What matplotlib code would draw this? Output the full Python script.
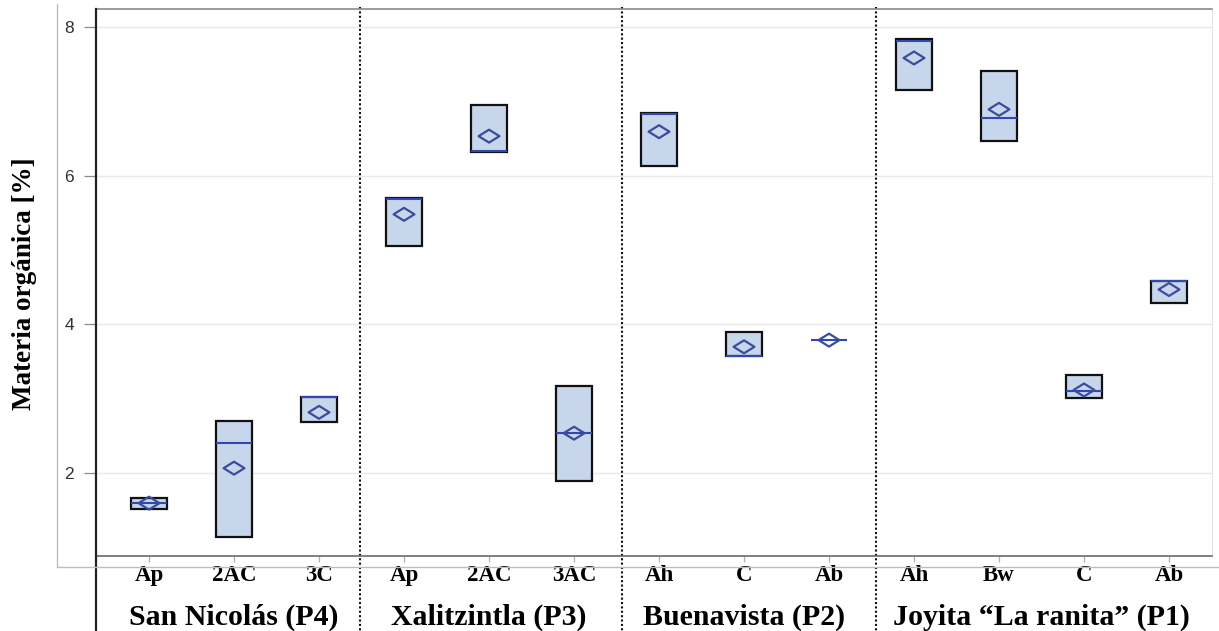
import matplotlib
matplotlib.use("Agg")
import matplotlib.pyplot as plt
import matplotlib.transforms as mtransforms
from matplotlib.lines import Line2D
from matplotlib.path import Path
import numpy as np

# Soil horizons along each profile, and the profile each group belongs to
horizons = ["Ap", "2AC", "3C", "Ap", "2AC", "3AC", "Ah", "C", "Ab", "Ah", "Bw", "C", "Ab"]
profiles = ["San Nicolás (P4)", "Xalitzintla (P3)", "Buenavista (P2)",
            "Joyita \u201cLa ranita\u201d (P1)"]
profile_sizes = [3, 3, 3, 4]

# Organic matter (%) summary per horizon
om_q1 = [1.52, 1.14, 2.69, 5.06, 6.32, 1.90, 6.13, 3.58, 3.79, 7.15, 6.47, 3.01, 4.29]
om_q3 = [1.67, 2.71, 3.03, 5.70, 6.95, 3.17, 6.84, 3.90, 3.79, 7.84, 7.41, 3.32, 4.58]
om_median = [1.60, 2.41, 3.02, 5.69, 6.33, 2.54, 6.83, 3.58, 3.79, 7.81, 6.78, 3.10, 4.58]
om_mean = [1.60, 2.07, 2.82, 5.48, 6.53, 2.54, 6.59, 3.70, 3.79, 7.58, 6.89, 3.12, 4.47]

y_ticks = [2, 4, 6, 8]

W, H = 1219, 631
fig = plt.figure(figsize=(W / 100, H / 100), dpi=100)
fig.patch.set_facecolor("white")


def fx(px):
    return px / W


def fy(py):
    return 1 - py / H


ax = fig.add_axes([fx(96), fy(556), fx(1212) - fx(96), fy(9) - fy(556)])
ax.set_xlim(-0.624, 12.506)
ax.set_ylim(0.89, 8.238)

serif = ["Liberation Serif", "DejaVu Serif"]
box_fill = "#c8d6ec"
blue = "#3347b0"
diamond_col = "#3a4c9c"

x = np.arange(len(horizons))
width = 0.42

# grid
for v in y_ticks:
    ax.axhline(v, color="#e9e9e9", lw=1.0, zorder=0)

# boxes (interquartile range)
for xi, lo, hi in zip(x, om_q1, om_q3):
    if hi > lo:
        ax.bar(xi, hi - lo, bottom=lo, width=width, facecolor=box_fill,
               edgecolor="#111111", linewidth=1.6, zorder=2)

# medians
ax.hlines(om_median, x - width / 2, x + width / 2, colors=blue, lw=1.5, zorder=3)

# means as flattened diamonds
diamond = Path([(-1, 0), (0, 0.62), (1, 0), (0, -0.62), (-1, 0)],
               [Path.MOVETO, Path.LINETO, Path.LINETO, Path.LINETO, Path.CLOSEPOLY])
ax.scatter(x, om_mean, marker=diamond, s=15 ** 2, facecolors="none",
           edgecolors=diamond_col, linewidths=1.6, zorder=4)

# spines
for side in ["left", "right", "top", "bottom"]:
    ax.spines[side].set_visible(False)
ax.spines["top"].set_visible(True)
ax.spines["top"].set_color("#8a8a8a")
ax.spines["top"].set_linewidth(1.2)
ax.spines["right"].set_visible(True)
ax.spines["right"].set_color("#e4e4e4")
ax.spines["bottom"].set_visible(True)
ax.spines["bottom"].set_color("#6a6a6a")
ax.spines["bottom"].set_linewidth(1.2)

# y axis
ax.set_yticks(y_ticks)
ax.set_yticklabels([str(v) for v in y_ticks], family=["Liberation Sans", "DejaVu Sans"],
                   fontsize=12.5, color="#333333")
ax.tick_params(axis="y", length=9, width=0.9, color="#8a8a8a", pad=7)

# x axis
ax.set_xticks(x)
ax.set_xticklabels(horizons, family=serif, fontweight="bold", fontsize=16.5)
ax.tick_params(axis="x", length=4, width=0.9, color="#b0b0b0", pad=2.5)

fig.text(fx(25), fy(284), "Materia orgánica [%]", rotation=90, ha="center",
         va="center", family=serif, fontweight="bold", fontsize=19.5)

# full-height left axis line
fig.add_artist(Line2D([fx(96), fx(96)], [fy(9), 0], color="#222222", lw=1.6))
# outer light frame
fig.add_artist(Line2D([fx(57), fx(57), 1.0], [fy(4), fy(567), fy(567)],
                      color="#bdbdbd", lw=1.0))

# dotted separators between profiles and profile names
blend = mtransforms.blended_transform_factory(ax.transData, fig.transFigure)
sep_pos = [2.48, 5.56, 8.55]
for s in sep_pos:
    ax.add_line(Line2D([s, s], [fy(7), 0], transform=blend, color="#111111",
                       lw=1.5, linestyle=(0, (1.0, 1.1)), clip_on=False))

start = 0
for name, n in zip(profiles, profile_sizes):
    centre = start + (n - 1) / 2
    ax.text(centre, fy(617), name, transform=blend, ha="center", va="center",
            family=serif, fontweight="bold", fontsize=21.5)
    start += n

fig.savefig("out.png", dpi=100, facecolor="white")
